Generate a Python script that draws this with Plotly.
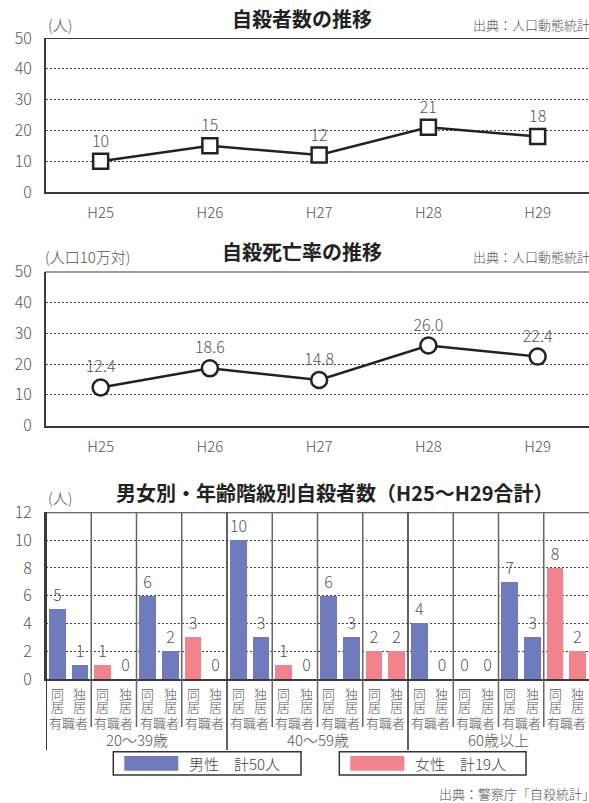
import plotly.graph_objects as go

W, H = 589, 803


def fx(p):
    return p / W


def fy(p):
    return 1 - p / H


# ---------------- data ----------------
years = ["H25", "H26", "H27", "H28", "H29"]
suicides = [10, 15, 12, 21, 18]
rates = [12.4, 18.6, 14.8, 26.0, 22.4]

age_bands = ["20～39歳", "40～59歳", "60歳以上"]
pair_sex = ["男性", "女性", "男性", "女性"] * 3
pair_job = ["有職者"] * 12
living = ["同居", "独居"]
cohabiting = [5, 1, 6, 3, 10, 1, 6, 2, 4, 0, 7, 8]
alone = [1, 0, 2, 0, 3, 0, 3, 2, 0, 0, 3, 2]
sexes = ["男性", "女性"]

colors = {"男性": "#6F7BBD", "女性": "#F0838B"}
FONT = "Noto Sans CJK JP"
GRAY = "#555555"
DARK = "#3a3a3a"


def tf(size, color=GRAY, weight=300):
    return dict(size=size, color=color, family=FONT, weight=weight)


fig = go.Figure()

# Chart 1: suicides
fig.add_trace(go.Scatter(
    x=years, y=suicides, mode="lines+markers+text",
    text=[str(v) for v in suicides], textposition="top center",
    textfont=tf(16),
    line=dict(color="#222222", width=2.5),
    marker=dict(symbol="square", size=15, color="white",
                line=dict(color="#222222", width=2.5)),
    cliponaxis=False, xaxis="x", yaxis="y", showlegend=False))

# Chart 2: rates
fig.add_trace(go.Scatter(
    x=years, y=rates, mode="lines+markers+text",
    text=[f"{v:.1f}" for v in rates], textposition="top center",
    textfont=tf(16),
    line=dict(color="#222222", width=2.5),
    marker=dict(symbol="circle", size=16, color="white",
                line=dict(color="#222222", width=2.5)),
    cliponaxis=False, xaxis="x2", yaxis="y2", showlegend=False))

# Chart 3: bars
for sex in sexes:
    xs, ys = [], []
    for k, s in enumerate(pair_sex):
        if s == sex:
            xs += [2 * k, 2 * k + 1]
            ys += [cohabiting[k], alone[k]]
    fig.add_trace(go.Bar(
        x=xs, y=ys, width=0.74, marker=dict(color=colors[sex], line=dict(width=0)),
        texttemplate="%{y}", textposition="outside", constraintext="none",
        textfont=tf(16),
        cliponaxis=False, xaxis="x3", yaxis="y3", showlegend=False, name=sex))

grid = dict(showgrid=True, gridcolor="#444444", griddash="2px,2px", gridwidth=1)
ytick = dict(tickfont=tf(16), ticks="",
             ticklabelstandoff=9, zeroline=False, showline=True,
             linecolor=DARK, linewidth=2, fixedrange=True, automargin=False)
xtick = dict(tickfont=tf(15), ticks="",
             showgrid=False, zeroline=False, showline=True, linecolor=DARK,
             linewidth=2, fixedrange=True, ticklabelstandoff=6, automargin=False)

fig.update_layout(
    width=W, height=H, autosize=False,
    margin=dict(l=0, r=0, t=0, b=0, pad=0, autoexpand=False),
    paper_bgcolor="white", plot_bgcolor="white",
    font=dict(family=FONT, color=GRAY),
    bargap=0, showlegend=False,
    xaxis=dict(domain=[fx(46), 1], anchor="y", range=[-0.5, 4.47], **xtick),
    yaxis=dict(domain=[fy(192), fy(38)], anchor="x", range=[0, 50], dtick=10, **grid, **ytick),
    xaxis2=dict(domain=[fx(46), 1], anchor="y2", range=[-0.5, 4.47], **xtick),
    yaxis2=dict(domain=[fy(425.7), fy(271.5)], anchor="x2", range=[0, 50], dtick=10, **grid, **ytick),
    xaxis3=dict(domain=[fx(46), 1], anchor="y3", range=[-0.5, 23.5],
                showticklabels=False, **{k: v for k, v in xtick.items() if k not in ("tickfont", "ticklabelstandoff")}),
    yaxis3=dict(domain=[fy(679.3), fy(512.3)], anchor="x3", range=[0, 12], dtick=2, **grid, **ytick),
)

shapes = []
ann = []

# frame tops
for yr, top in (("y", 50), ("y2", 50), ("y3", 12)):
    shapes.append(dict(type="line", xref="paper", yref=yr, x0=fx(45), x1=1, y0=top, y1=top,
                       line=dict(color=DARK, width=2)))

# chart 3 vertical separators
n_pairs = len(cohabiting)
for k in range(n_pairs):
    xb = 2 * k - 0.5
    if k % 4 == 0:
        shapes.append(dict(type="line", xref="x3", yref="paper", x0=xb, x1=xb,
                           y0=fy(750), y1=fy(512.3), line=dict(color=DARK, width=2 if k == 0 else 1.6)))
    else:
        shapes.append(dict(type="line", xref="x3", yref="paper", x0=xb, x1=xb,
                           y0=fy(727), y1=fy(512.3), line=dict(color="#666666", width=1.5)))

# titles
title_font = dict(size=20, color="#222222", family=FONT, weight=700)
ann.append(dict(text="自殺者数の推移", x=fx(302), y=fy(19), font=title_font))
ann.append(dict(text="自殺死亡率の推移", x=fx(302), y=fy(252), font=title_font))
ann.append(dict(text="男女別・年齢階級別自殺者数（H25～H29合計）", x=fx(334), y=fy(492), font=title_font))

small = tf(15)
ann.append(dict(text="(人)", x=fx(46), y=fy(24), xanchor="left", font=small))
ann.append(dict(text="(人口10万対)", x=fx(43), y=fy(257), xanchor="left", font=small))
ann.append(dict(text="(人)", x=fx(46), y=fy(497), xanchor="left", font=small))

src = tf(13)
ann.append(dict(text="出典：人口動態統計", x=fx(471), y=fy(24), xanchor="left", font=src))
ann.append(dict(text="出典：人口動態統計", x=fx(471), y=fy(257), xanchor="left", font=src))
ann.append(dict(text="出典：警察庁「自殺統計」", x=fx(437), y=fy(793), xanchor="left", font=tf(13)))

# category labels under bars
lab = tf(13)
for i in range(2 * n_pairs):
    word = living[i % 2]
    ann.append(dict(text=word[0], x=i, xref="x3", y=fy(693), font=lab))
    ann.append(dict(text=word[1], x=i, xref="x3", y=fy(706), font=lab))
for k in range(n_pairs):
    ann.append(dict(text=pair_job[k], x=2 * k + 0.5, xref="x3", y=fy(722), font=lab))
for b, band in enumerate(age_bands):
    ann.append(dict(text=band, x=8 * b + 3.5, xref="x3", y=fy(739), font=tf(15)))

# custom legend boxes
boxes = [(113.3, 301), (339.3, 526)]
for (bx0, bx1), sex in zip(boxes, sexes):
    total = sum(c + a for c, a, s in zip(cohabiting, alone, pair_sex) if s == sex)
    shapes.append(dict(type="rect", xref="paper", yref="paper", x0=fx(bx0), x1=fx(bx1),
                       y0=fy(775), y1=fy(751.7), line=dict(color="#333333", width=1.5),
                       fillcolor="white"))
    shapes.append(dict(type="rect", xref="paper", yref="paper", x0=fx(bx0 + 11), x1=fx(bx0 + 65),
                       y0=fy(770.7), y1=fy(756), line=dict(width=0), fillcolor=colors[sex]))
    ann.append(dict(text=f"{sex}　計{total}人", x=fx(bx0 + 74), y=fy(763.5), xanchor="left",
                    font=tf(15, "#444444")))

for a in ann:
    a.setdefault("xref", "paper")
    a.setdefault("yref", "paper")
    a.setdefault("xanchor", "center")
    a.setdefault("yanchor", "middle")
    a["showarrow"] = False

fig.update_layout(shapes=shapes, annotations=ann)
fig.write_html("out.html", config={"displayModeBar": False},
               post_script="document.body.style.margin='0';document.body.style.overflow='hidden';")
